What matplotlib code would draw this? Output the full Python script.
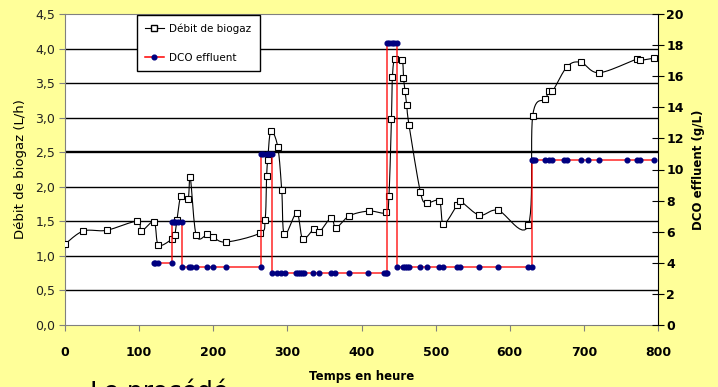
import numpy as np
import matplotlib
matplotlib.use("Agg")
import matplotlib.pyplot as plt
from matplotlib.lines import Line2D
from matplotlib.ticker import FuncFormatter

# Débit de biogaz (L/h) -- left axis
biogaz_t = [0, 24.7, 56, 97, 103, 120, 126, 144, 148, 151, 156.5, 166, 169, 177,
            192, 199, 217, 263, 270, 272, 273.5, 277.6, 287, 292.4, 296, 312.7,
            320.7, 336, 342.8, 359, 365.7, 383.7, 410, 432.8, 437, 440.4, 441.7,
            445, 454.8, 456.6, 458.8, 461, 464, 479.5, 488, 505, 510.6, 528.6,
            533.5, 559, 584, 625, 631, 648, 652.7, 657.6, 677.5, 696, 720.6,
            772, 776, 794]
biogaz = [1.17, 1.36, 1.37, 1.50, 1.36, 1.49, 1.16, 1.24, 1.30, 1.52, 1.87, 1.82,
          2.14, 1.30, 1.31, 1.28, 1.20, 1.33, 1.52, 2.16, 2.39, 2.80, 2.58, 1.95,
          1.31, 1.62, 1.25, 1.39, 1.34, 1.55, 1.41, 1.58, 1.65, 1.63, 1.87, 2.98,
          3.59, 3.85, 3.83, 3.58, 3.38, 3.18, 2.90, 1.92, 1.77, 1.79, 1.46, 1.73,
          1.79, 1.59, 1.66, 1.44, 3.03, 3.27, 3.39, 3.38, 3.74, 3.80, 3.65, 3.85,
          3.83, 3.86]

# DCO effluent (g/L) -- right axis
dco_t = [120, 122, 125, 144.4,
         144.4, 147, 149, 152, 158,
         158, 167, 169.6, 177, 192, 199, 217, 264.5,
         264.5, 267.6, 272, 275.6, 278.9,
         278.9, 286.6, 291.5, 297, 312, 315, 317, 320, 322, 335, 343, 359, 364.5,
         383.7, 409.4, 430.5, 432.8, 434,
         434, 437.7, 440.8, 444.4, 447.6,
         447.6, 455.6, 458.8, 461, 464, 479.5, 488, 505, 509.7, 528.6, 533, 559,
         584.3, 625, 629.7,
         629.7, 631, 634, 648, 653, 657.5, 673, 677.5, 696, 705, 720.6, 758, 772,
         776, 794]
dco = [4.0, 4.0, 4.0, 4.0,
       6.64, 6.64, 6.64, 6.64, 6.64,
       3.7, 3.7, 3.7, 3.7, 3.7, 3.7, 3.7, 3.7,
       10.97, 10.97, 10.97, 10.97, 10.97,
       3.32, 3.32, 3.32, 3.32, 3.32, 3.32, 3.32, 3.32, 3.32, 3.32, 3.32, 3.32, 3.32,
       3.32, 3.32, 3.32, 3.32, 3.32,
       18.16, 18.16, 18.16, 18.16, 18.16,
       3.7, 3.7, 3.7, 3.7, 3.7, 3.7, 3.7, 3.7, 3.7, 3.7, 3.7, 3.7,
       3.7, 3.7, 3.7,
       10.61, 10.61, 10.61, 10.61, 10.61, 10.61, 10.61, 10.61, 10.61, 10.61, 10.61,
       10.61, 10.61, 10.61, 10.61]

left_ticks = [0, 0.5, 1.0, 1.5, 2.0, 2.5, 3.0, 3.5, 4.0, 4.5]
right_ticks = [0, 2, 4, 6, 8, 10, 12, 14, 16, 18, 20]
x_ticks = [0, 100, 200, 300, 400, 500, 600, 700, 800]


def smooth(x, y, n=12):
    # Catmull-Rom style bezier, like Excel's "smoothed line"
    x = np.asarray(x, float)
    y = np.asarray(y, float)
    px = np.concatenate([[x[0]], x, [x[-1]]])
    py = np.concatenate([[y[0]], y, [y[-1]]])
    out_x, out_y = [], []
    t = np.linspace(0, 1, n, endpoint=False)
    for i in range(1, len(px) - 2):
        p0 = np.array([px[i], py[i]])
        p3 = np.array([px[i + 1], py[i + 1]])
        c1 = p0 + (p3 - np.array([px[i - 1], py[i - 1]])) / 6
        c2 = p3 - (np.array([px[i + 2], py[i + 2]]) - p0) / 6
        b = ((1 - t) ** 3)[:, None] * p0 + (3 * (1 - t) ** 2 * t)[:, None] * c1 \
            + (3 * (1 - t) * t ** 2)[:, None] * c2 + (t ** 3)[:, None] * p3
        out_x.extend(b[:, 0])
        out_y.extend(b[:, 1])
    out_x.append(x[-1])
    out_y.append(y[-1])
    return out_x, out_y


plt.rcParams["font.family"] = ["DejaVu Sans"]

fig = plt.figure(figsize=(7.18, 3.87), dpi=100, facecolor="#FFFF99")
ax = fig.add_axes([65 / 718, 62 / 387, 593 / 718, 311 / 387])
ax.set_facecolor("white")

for v in left_ticks[1:-1]:
    ax.axhline(v, color="black", lw=1.7 if v == 2.5 else 1.0, zorder=0)

sx, sy = smooth(biogaz_t, biogaz)
ax.plot(sx, sy, color="black", lw=0.8, zorder=2)
ax.plot(biogaz_t, biogaz, ls="none", marker="s", ms=5, mfc="white",
        mec="black", mew=0.8, zorder=3)

ax.set_xlim(0, 800)
ax.set_ylim(0, 4.5)
ax.set_xticks(x_ticks)
ax.set_yticks(left_ticks)
ax.yaxis.set_major_formatter(FuncFormatter(lambda v, p: f"{v:.1f}".replace(".", ",")))
ax.tick_params(axis="y", direction="out", length=4, color="#808080", pad=3,
               labelsize=9, labelcolor="#222222")
ax.tick_params(axis="x", direction="out", length=4, color="#808080", pad=11,
               labelsize=9)
for lab in ax.get_xticklabels():
    lab.set_fontweight("bold")
for s in ["left", "bottom", "top"]:
    ax.spines[s].set_color("#808080")
ax.spines["right"].set_visible(False)
ax.set_ylabel("Débit de biogaz (L/h)", fontsize=9.5, labelpad=6)
ax.set_xlabel("Temps en heure", fontsize=8.5, fontweight="bold")
ax.xaxis.set_label_coords(0.50, -0.145)

ax2 = ax.twinx()
ax2.plot(dco_t, dco, color="red", lw=1.1, alpha=0.85, zorder=2)
ax2.plot(dco_t, dco, ls="none", marker="o", ms=3.4, color="#000080", zorder=3)
ax2.set_ylim(0, 20)
ax2.set_yticks(right_ticks)
ax2.tick_params(axis="y", direction="inout", length=8, color="black", pad=2,
                labelsize=9)
for lab in ax2.get_yticklabels():
    lab.set_fontweight("bold")
ax2.spines["right"].set_color("black")
for s in ["left", "bottom", "top"]:
    ax2.spines[s].set_visible(False)
ax2.set_ylabel("DCO effluent (g/L)", fontsize=8.5, fontweight="bold", labelpad=6)

handles = [
    Line2D([], [], color="black", lw=0.8, marker="s", ms=5, mfc="white", mec="black"),
    Line2D([], [], color="red", lw=1.1, marker="o", ms=3.4, mfc="#000080", mec="#000080"),
]
leg = ax2.legend(handles, ["Débit de biogaz", "DCO effluent"], loc="upper left",
                 bbox_to_anchor=(0.121, 0.997), borderaxespad=0, fontsize=7.5,
                 labelspacing=1.8, handlelength=1.8, handletextpad=0.5,
                 borderpad=0.8, fancybox=False, framealpha=1, edgecolor="black")
leg.get_frame().set_linewidth(1.0)

fig.text(90 / 718, -0.032, "Le procédé", fontsize=18, va="baseline", ha="left")

fig.savefig("out.png", dpi=100, facecolor=fig.get_facecolor())
